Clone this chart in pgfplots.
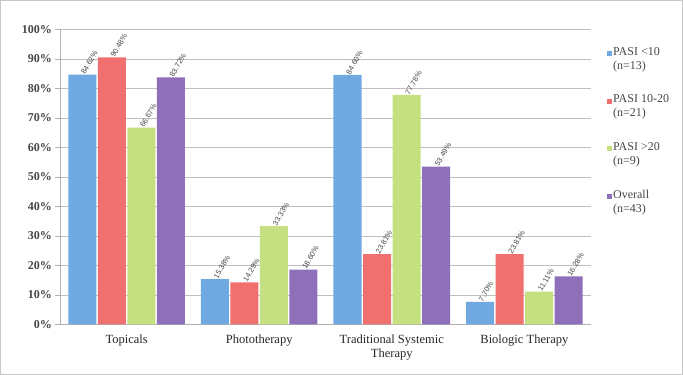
\documentclass[border=0pt]{standalone}
\usepackage{pgfplots}
\pgfplotsset{compat=1.18}
\usepackage{fontspec}
\setmainfont{Liberation Serif}
\setsansfont{Liberation Sans}
\definecolor{cBlue}{RGB}{112,168,226}
\definecolor{cRed}{RGB}{240,112,112}
\definecolor{cGreen}{RGB}{196,224,128}
\definecolor{cPur}{RGB}{142,112,186}
\definecolor{txt}{RGB}{70,70,70}
\begin{document}
\begin{tikzpicture}
\draw[gray!45, line width=0.6pt, fill=white] (-60pt,-50pt) rectangle (622pt,324pt);
\begin{axis}[
  at={(0,0)}, anchor=south west,
  width=530pt, height=295pt, scale only axis,
  ybar=1.5pt, bar width=28pt,
  xmin=-0.5, xmax=3.5,
  ymin=0, ymax=100,
  ytick={0,10,...,100},
  yticklabel={\pgfmathprintnumber{\tick}\%},
  /pgf/number format/assume math mode=true,
  yticklabel style={font=\fontsize{12}{14}\selectfont\bfseries, text=txt},
  xtick={0,1,2,3},
  xticklabels={Topicals, Phototherapy, {Traditional Systemic\\Therapy}, Biologic Therapy},
  xticklabel style={align=center, font=\fontsize{12.5}{14}\selectfont, text=black!85, yshift=-2pt},
  major x tick style={draw=none},
  extra x ticks={-0.5,0.5,1.5,2.5,3.5},
  extra x tick labels={},
  extra x tick style={grid=none, tick style={draw=gray!60, thin}, major tick length=6pt},
  xtick pos=bottom, ytick pos=left,
  tick align=outside,
  major tick length=5pt,
  ytick style={draw=gray!60, thin},
  axis x line*=bottom, axis y line*=left,
  axis line style={draw=gray!60, thin},
  ymajorgrids, grid style={draw=gray!50, thin},
  nodes near coords={\pgfmathprintnumber[fixed,fixed zerofill,precision=2]{\pgfplotspointmeta}\%},
  every node near coord/.append style={font=\sffamily\fontsize{7.5}{8}\selectfont, rotate=60, anchor=west, text=txt, inner sep=1pt},
  legend style={at={(1.025,0.95)}, anchor=north west, draw=none, fill=none,
    font=\fontsize{12}{14}\selectfont, text=txt, row sep=22pt, legend cell align=left,
    nodes={align=left, inner sep=1pt}},
  legend image code/.code={\fill[#1] (0pt,3pt) rectangle (5pt,8pt);},
]
\addplot[draw=none, fill=cBlue] coordinates {(0,84.62) (1,15.38) (2,84.60) (3,7.70)};
\addplot[draw=none, fill=cRed] coordinates {(0,90.48) (1,14.29) (2,23.81) (3,23.81)};
\addplot[draw=none, fill=cGreen] coordinates {(0,66.67) (1,33.33) (2,77.78) (3,11.11)};
\addplot[draw=none, fill=cPur] coordinates {(0,83.72) (1,18.60) (2,53.49) (3,16.28)};
\legend{{PASI <10\\(n=13)},{PASI 10-20\\(n=21)},{PASI >20\\(n=9)},{Overall\\(n=43)}}
\end{axis}
\end{tikzpicture}
\end{document}
